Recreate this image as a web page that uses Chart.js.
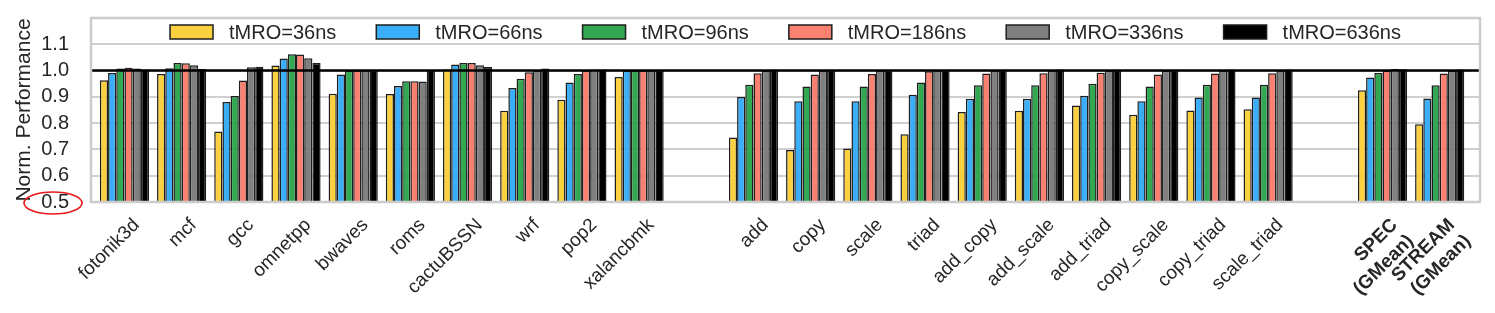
<!DOCTYPE html>
<html>
<head>
<meta charset="utf-8">
<script src="https://cdn.jsdelivr.net/npm/chart.js@4.4.0/dist/chart.umd.min.js"></script>
<style>
  html, body { margin: 0; padding: 0; background: #fff; }
  #wrap { width: 1495px; height: 313px; }
</style>
</head>
<body>
<div id="wrap"><canvas id="chart" width="1495" height="313"></canvas></div>
<script>
// categorias (tres grupos separados por un hueco)
const specBenchmarks = ['fotonik3d', 'mcf', 'gcc', 'omnetpp', 'bwaves', 'roms', 'cactuBSSN', 'wrf', 'pop2', 'xalancbmk'];
const streamKernels = ['add', 'copy', 'scale', 'triad', 'add_copy', 'add_scale', 'add_triad', 'copy_scale', 'copy_triad', 'scale_triad'];
const gmeanLabels = [['SPEC', '(GMean)'], ['STREAM', '(GMean)']];

const seriesNames = ['tMRO=36ns', 'tMRO=66ns', 'tMRO=96ns', 'tMRO=186ns', 'tMRO=336ns', 'tMRO=636ns'];
const seriesColors = ['#fbd140', '#3aaef8', '#33a852', '#fa8072', '#808080', '#000000'];

// valores: SPEC (10), STREAM (10), GMean (2)
const tmro36 = [0.963, 0.987, 0.768, 1.019, 0.912, 0.911, 1.004, 0.847, 0.889, 0.976,
                0.745, 0.698, 0.704, 0.758, 0.842, 0.847, 0.867, 0.832, 0.848, 0.853,
                0.925, 0.796];
const tmro66 = [0.991, 1.009, 0.880, 1.046, 0.985, 0.941, 1.023, 0.934, 0.955, 1.000,
                0.899, 0.883, 0.883, 0.908, 0.893, 0.893, 0.904, 0.883, 0.898, 0.898,
                0.974, 0.894];
const tmro96 = [1.008, 1.029, 0.903, 1.062, 1.000, 0.959, 1.029, 0.969, 0.987, 1.000,
                0.946, 0.939, 0.939, 0.955, 0.944, 0.944, 0.950, 0.939, 0.946, 0.946,
                0.991, 0.944];
const tmro186 = [1.011, 1.028, 0.962, 1.061, 1.000, 0.959, 1.029, 0.994, 1.000, 1.000,
                 0.990, 0.985, 0.987, 0.997, 0.989, 0.990, 0.992, 0.985, 0.989, 0.990,
                 1.000, 0.989];
const tmro336 = [1.008, 1.020, 1.013, 1.047, 1.000, 0.958, 1.020, 1.000, 1.003, 1.000,
                 1.000, 1.000, 1.000, 1.000, 1.000, 1.000, 1.000, 1.000, 1.000, 1.000,
                 1.006, 1.000];
const tmro636 = [1.004, 1.006, 1.015, 1.029, 1.000, 1.000, 1.014, 1.008, 1.004, 1.000,
                 1.004, 1.003, 1.003, 1.003, 1.003, 1.004, 1.003, 1.003, 1.004, 1.004,
                 1.005, 1.004];
const allSeries = [tmro36, tmro66, tmro96, tmro186, tmro336, tmro636];

const yTicks = [0.5, 0.6, 0.7, 0.8, 0.9, 1.0, 1.1];

const fontFam = '"Liberation Sans", Arial, sans-serif';
const textColor = '#262626';

// posiciones en el eje x, con un hueco entre grupos
const slots = [];
let pos = 0;
[specBenchmarks, streamKernels, gmeanLabels].forEach(group => {
    group.forEach(lbl => { slots.push({ pos: pos, label: lbl }); pos++; });
    pos++;
});
const labelAt = {};
slots.forEach(s => { labelAt[s.pos] = s.label; });
const gmeanStart = slots.length - gmeanLabels.length;
const isGmean = v => slots.findIndex(s => s.pos === v) >= gmeanStart;

const datasets = allSeries.map((vals, k) => ({
    label: seriesNames[k],
    data: vals.map((v, i) => ({ x: slots[i].pos, y: v })),
    backgroundColor: seriesColors[k],
    borderColor: '#1e1e1e',
    borderWidth: 1.5,
    categoryPercentage: 0.86,
    barPercentage: 1.0
}));

// marco, linea de referencia en 1.0, leyenda y elipse roja
const decoPlugin = {
    id: 'deco',
    afterDatasetsDraw(chart) {
        const { ctx, chartArea: a, scales } = chart;
        ctx.save();
        const y1 = scales.y.getPixelForValue(1.0);
        ctx.strokeStyle = '#000';
        ctx.lineWidth = 2.5;
        ctx.beginPath();
        ctx.moveTo(a.left, y1);
        ctx.lineTo(a.right, y1);
        ctx.stroke();
        ctx.strokeStyle = '#cccccc';
        ctx.lineWidth = 2.5;
        ctx.strokeRect(a.left, a.top, a.right - a.left, a.bottom - a.top);
        ctx.restore();
    },
    afterDraw(chart) {
        const { ctx, chartArea: a, scales } = chart;
        ctx.save();
        // leyenda
        ctx.font = '20px ' + fontFam;
        const boxW = 43, boxH = 14, gapText = 16, gapItem = 40;
        const widths = seriesNames.map(n => ctx.measureText(n).width);
        let total = 0;
        widths.forEach((w, i) => { total += boxW + gapText + w + (i < widths.length - 1 ? gapItem : 0); });
        let x = (a.left + a.right) / 2 - total / 2;
        const cy = a.top + 14;
        ctx.textBaseline = 'middle';
        ctx.textAlign = 'left';
        seriesNames.forEach((n, i) => {
            ctx.fillStyle = seriesColors[i];
            ctx.fillRect(x, cy - boxH / 2, boxW, boxH);
            ctx.strokeStyle = '#1e1e1e';
            ctx.lineWidth = 1.5;
            ctx.strokeRect(x, cy - boxH / 2, boxW, boxH);
            ctx.fillStyle = textColor;
            ctx.fillText(n, x + boxW + gapText, cy + 1);
            x += boxW + gapText + widths[i] + gapItem;
        });
        // elipse alrededor de 0.5
        const ey = scales.y.getPixelForValue(0.5) + 1;
        ctx.strokeStyle = '#e8191a';
        ctx.lineWidth = 1.6;
        ctx.beginPath();
        ctx.ellipse(a.left - 38, ey, 29, 11, 0, 0, Math.PI * 2);
        ctx.stroke();
        ctx.restore();
    }
};

new Chart(document.getElementById('chart'), {
    type: 'bar',
    data: { datasets: datasets },
    options: {
        responsive: false,
        animation: false,
        devicePixelRatio: 1,
        layout: { padding: { left: 0, right: 15, top: 18, bottom: 0 } },
        plugins: { legend: { display: false }, tooltip: { enabled: false } },
        scales: {
            x: {
                type: 'linear',
                offset: false,
                min: -0.585,
                max: 23.705,
                grid: { display: false, drawTicks: false, offset: false },
                border: { display: false },
                afterBuildTicks: (scale) => { scale.ticks = slots.map(s => ({ value: s.pos })); },
                afterFit: (scale) => {
                    scale.height = 111;
                    scale.paddingLeft = 0; scale.paddingRight = 0;
                },
                ticks: {
                    autoSkip: false,
                    maxRotation: 45,
                    minRotation: 45,
                    padding: 12,
                    labelOffset: 12,
                    color: textColor,
                    font: (c) => ({ family: fontFam, size: 19, weight: (c.tick && isGmean(c.tick.value)) ? 'bold' : 'normal' }),
                    callback: (v) => labelAt[v] !== undefined ? labelAt[v] : ''
                }
            },
            y: {
                min: 0.5,
                max: 1.2,
                grid: { color: '#d0d0d0', lineWidth: 2, drawTicks: false },
                border: { display: false },
                afterBuildTicks: (scale) => { scale.ticks = yTicks.concat([1.2]).map(v => ({ value: v })); },
                afterFit: (scale) => {
                    scale.width = 91;
                    scale.paddingTop = 0; scale.paddingBottom = 0;
                },
                ticks: {
                    autoSkip: false,
                    padding: 22,
                    color: textColor,
                    font: { family: fontFam, size: 20 },
                    callback: (v) => yTicks.includes(v) ? v.toFixed(1) : ''
                },
                title: {
                    display: true,
                    text: 'Norm. Performance',
                    color: textColor,
                    font: { family: fontFam, size: 21 },
                    padding: { top: 12, bottom: 0 }
                }
            }
        }
    },
    plugins: [decoPlugin]
});
</script>
</body>
</html>
